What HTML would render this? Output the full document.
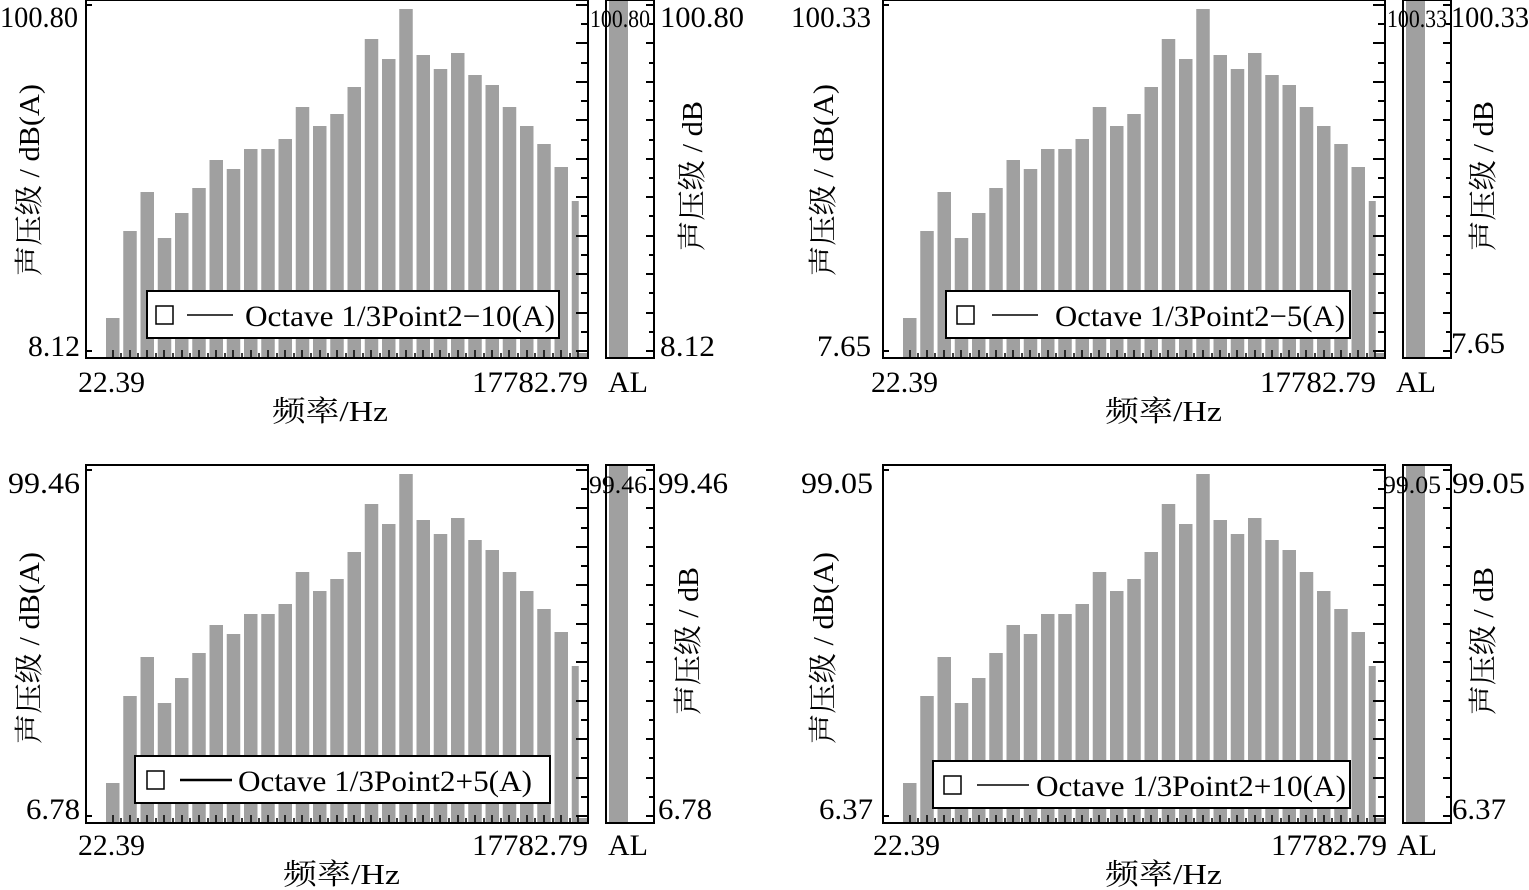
<!DOCTYPE html>
<html><head><meta charset="utf-8"><style>
body{margin:0;background:#fff}
svg{display:block}
text{font-family:"Liberation Serif","Noto Serif CJK SC",serif;fill:#000}
</style></head><body>
<svg width="1529" height="890" viewBox="0 0 1529 890" xmlns="http://www.w3.org/2000/svg">
<defs>
<g id="bars" fill="#a0a0a0">
<rect x="20" y="318" width="13.5" height="40"/>
<rect x="37.25" y="231" width="13.5" height="127"/>
<rect x="54.5" y="192" width="13.5" height="166"/>
<rect x="71.75" y="238" width="13.5" height="120"/>
<rect x="89" y="213" width="13.5" height="145"/>
<rect x="106.25" y="188" width="13.5" height="170"/>
<rect x="123.5" y="160" width="13.5" height="198"/>
<rect x="140.75" y="169" width="13.5" height="189"/>
<rect x="158" y="149" width="13.5" height="209"/>
<rect x="175.25" y="149" width="13.5" height="209"/>
<rect x="192.5" y="139" width="13.5" height="219"/>
<rect x="209.75" y="107" width="13.5" height="251"/>
<rect x="227" y="126" width="13.5" height="232"/>
<rect x="244.25" y="114" width="13.5" height="244"/>
<rect x="261.5" y="87" width="13.5" height="271"/>
<rect x="278.75" y="39" width="13.5" height="319"/>
<rect x="296" y="59" width="13.5" height="299"/>
<rect x="313.25" y="9" width="13.5" height="349"/>
<rect x="330.5" y="55" width="13.5" height="303"/>
<rect x="347.75" y="69" width="13.5" height="289"/>
<rect x="365" y="53" width="13.5" height="305"/>
<rect x="382.25" y="75" width="13.5" height="283"/>
<rect x="399.5" y="85" width="13.5" height="273"/>
<rect x="416.75" y="107" width="13.5" height="251"/>
<rect x="434" y="126" width="13.5" height="232"/>
<rect x="451.25" y="144" width="13.5" height="214"/>
<rect x="468.5" y="167" width="13.5" height="191"/>
<rect x="485.75" y="201" width="7" height="157"/>
</g>
<g id="ticks" stroke="#000" stroke-width="2">
<path d="M0 5h6M0 351h6"/>
<path d="M502 5h-12M502 24h-7M502 43h-12M502 63h-7M502 82h-12M502 101h-7M502 120h-12M502 140h-7M502 159h-12M502 178h-7M502 197h-12M502 216h-7M502 236h-12M502 255h-7M502 274h-12M502 293h-7M502 313h-12M502 332h-7M502 351h-12"/>
<path d="M568 5h-8M568 24h-5M568 43h-8M568 63h-5M568 82h-8M568 101h-5M568 120h-8M568 140h-5M568 159h-8M568 178h-5M568 197h-8M568 216h-5M568 236h-8M568 255h-5M568 274h-8M568 293h-5M568 313h-8M568 332h-5M568 351h-8"/>
<path stroke-width="1.5" d="M27 358v-8M35 358v-5M44 358v-8M52 358v-5M61 358v-8M70 358v-5M78 358v-8M87 358v-5M96 358v-8M104 358v-5M113 358v-8M122 358v-5M130 358v-8M139 358v-5M147 358v-8M156 358v-5M165 358v-8M173 358v-5M182 358v-8M191 358v-5M199 358v-8M208 358v-5M216 358v-8M225 358v-5M234 358v-8M242 358v-5M251 358v-8M260 358v-5M268 358v-8M277 358v-5M285 358v-8M294 358v-5M303 358v-8M311 358v-5M320 358v-8M329 358v-5M337 358v-8M346 358v-5M354 358v-8M363 358v-5M372 358v-8M380 358v-5M389 358v-8M398 358v-5M406 358v-8M415 358v-5M423 358v-8M432 358v-5M441 358v-8M449 358v-5M458 358v-8M467 358v-5M475 358v-8M484 358v-5M492 358v-8"/>
</g>
<g id="frame">
<use href="#bars"/>
<rect x="492.75" y="353" width="9.25" height="5" fill="#a0a0a0"/>
<rect x="0" y="0" width="502" height="358" fill="none" stroke="#000" stroke-width="2"/>
<rect x="523" y="0" width="19" height="358" fill="#a0a0a0"/>
<rect x="520" y="0" width="48" height="358" fill="none" stroke="#000" stroke-width="2"/>
<use href="#ticks"/>
</g>
</defs>

<!-- Panel 1 -->
<g transform="translate(86,0)">
<use href="#frame"/>
<text x="-8" y="27" font-size="30" text-anchor="end" textLength="78" lengthAdjust="spacingAndGlyphs">100.80</text>
<text x="-6" y="356" font-size="30" text-anchor="end" textLength="52" lengthAdjust="spacingAndGlyphs">8.12</text>
<text x="504" y="27" font-size="25" textLength="60" lengthAdjust="spacingAndGlyphs">100.80</text>
<text x="574" y="27" font-size="30" textLength="84" lengthAdjust="spacingAndGlyphs">100.80</text>
<text x="574" y="356" font-size="30" textLength="55" lengthAdjust="spacingAndGlyphs">8.12</text>
<text x="-8" y="392" font-size="30" textLength="67" lengthAdjust="spacingAndGlyphs">22.39</text>
<text x="386" y="392" font-size="30" textLength="116" lengthAdjust="spacingAndGlyphs">17782.79</text>
<text x="522" y="392" font-size="30" textLength="40" lengthAdjust="spacingAndGlyphs">AL</text>
<text x="186" y="421" font-size="29" textLength="116" lengthAdjust="spacingAndGlyphs">频率/Hz</text>
<text transform="translate(-47,180) rotate(-90)" font-size="29" text-anchor="middle" textLength="192" lengthAdjust="spacingAndGlyphs">声压级 / dB(A)</text>
<text transform="translate(616,176) rotate(-90)" font-size="29" text-anchor="middle" textLength="150" lengthAdjust="spacingAndGlyphs">声压级 / dB</text>
<g transform="translate(61,291)">
<rect x="0" y="0" width="412" height="47" fill="#fff" stroke="#000" stroke-width="2"/>
<rect x="9" y="15" width="17" height="18" fill="none" stroke="#000" stroke-width="1.5"/>
<line x1="40" y1="24" x2="86" y2="24" stroke="#000" stroke-width="1.5"/>
<text x="98" y="35" font-size="30" textLength="310" lengthAdjust="spacingAndGlyphs">Octave 1/3Point2−10(A)</text>
</g>
</g>

<!-- Panel 2 -->
<g transform="translate(883,0)">
<use href="#frame"/>
<text x="-12" y="27" font-size="30" text-anchor="end" textLength="80" lengthAdjust="spacingAndGlyphs">100.33</text>
<text x="-12" y="356" font-size="30" text-anchor="end" textLength="54" lengthAdjust="spacingAndGlyphs">7.65</text>
<text x="504" y="27" font-size="25" textLength="60" lengthAdjust="spacingAndGlyphs">100.33</text>
<text x="568" y="27" font-size="30" textLength="78" lengthAdjust="spacingAndGlyphs">100.33</text>
<text x="568" y="353" font-size="30" textLength="54" lengthAdjust="spacingAndGlyphs">7.65</text>
<text x="-12" y="392" font-size="30" textLength="67" lengthAdjust="spacingAndGlyphs">22.39</text>
<text x="377" y="392" font-size="30" textLength="116" lengthAdjust="spacingAndGlyphs">17782.79</text>
<text x="513" y="392" font-size="30" textLength="40" lengthAdjust="spacingAndGlyphs">AL</text>
<text x="222" y="421" font-size="29" textLength="117" lengthAdjust="spacingAndGlyphs">频率/Hz</text>
<text transform="translate(-50,180) rotate(-90)" font-size="29" text-anchor="middle" textLength="192" lengthAdjust="spacingAndGlyphs">声压级 / dB(A)</text>
<text transform="translate(610,176) rotate(-90)" font-size="29" text-anchor="middle" textLength="150" lengthAdjust="spacingAndGlyphs">声压级 / dB</text>
<g transform="translate(63,291)">
<rect x="0" y="0" width="404" height="47" fill="#fff" stroke="#000" stroke-width="2"/>
<rect x="11" y="15" width="17" height="18" fill="none" stroke="#000" stroke-width="1.5"/>
<line x1="46" y1="24" x2="92" y2="24" stroke="#000" stroke-width="1.5"/>
<text x="109" y="35" font-size="30" textLength="290" lengthAdjust="spacingAndGlyphs">Octave 1/3Point2−5(A)</text>
</g>
</g>

<!-- Panel 3 -->
<g transform="translate(86,465)">
<use href="#frame"/>
<text x="-6" y="28" font-size="30" text-anchor="end" textLength="72" lengthAdjust="spacingAndGlyphs">99.46</text>
<text x="-6" y="354" font-size="30" text-anchor="end" textLength="54" lengthAdjust="spacingAndGlyphs">6.78</text>
<text x="503" y="28" font-size="25" textLength="58" lengthAdjust="spacingAndGlyphs">99.46</text>
<text x="572" y="28" font-size="30" textLength="70" lengthAdjust="spacingAndGlyphs">99.46</text>
<text x="572" y="354" font-size="30" textLength="54" lengthAdjust="spacingAndGlyphs">6.78</text>
<text x="-8" y="390" font-size="30" textLength="67" lengthAdjust="spacingAndGlyphs">22.39</text>
<text x="386" y="390" font-size="30" textLength="116" lengthAdjust="spacingAndGlyphs">17782.79</text>
<text x="522" y="390" font-size="30" textLength="40" lengthAdjust="spacingAndGlyphs">AL</text>
<text x="197" y="419" font-size="29" textLength="117" lengthAdjust="spacingAndGlyphs">频率/Hz</text>
<text transform="translate(-47,183) rotate(-90)" font-size="29" text-anchor="middle" textLength="192" lengthAdjust="spacingAndGlyphs">声压级 / dB(A)</text>
<text transform="translate(612,176) rotate(-90)" font-size="29" text-anchor="middle" textLength="148" lengthAdjust="spacingAndGlyphs">声压级 / dB</text>
<g transform="translate(49,291)">
<rect x="0" y="0" width="415" height="47" fill="#fff" stroke="#000" stroke-width="2"/>
<rect x="12" y="15" width="17" height="18" fill="none" stroke="#000" stroke-width="1.5"/>
<line x1="45" y1="24" x2="97" y2="24" stroke="#000" stroke-width="2.5"/>
<text x="103" y="35" font-size="30" textLength="294" lengthAdjust="spacingAndGlyphs">Octave 1/3Point2+5(A)</text>
</g>
</g>

<!-- Panel 4 -->
<g transform="translate(883,465)">
<use href="#frame"/>
<text x="-10" y="28" font-size="30" text-anchor="end" textLength="72" lengthAdjust="spacingAndGlyphs">99.05</text>
<text x="-10" y="354" font-size="30" text-anchor="end" textLength="54" lengthAdjust="spacingAndGlyphs">6.37</text>
<text x="500" y="28" font-size="25" textLength="58" lengthAdjust="spacingAndGlyphs">99.05</text>
<text x="569" y="28" font-size="30" textLength="73" lengthAdjust="spacingAndGlyphs">99.05</text>
<text x="569" y="354" font-size="30" textLength="54" lengthAdjust="spacingAndGlyphs">6.37</text>
<text x="-10" y="390" font-size="30" textLength="67" lengthAdjust="spacingAndGlyphs">22.39</text>
<text x="388" y="390" font-size="30" textLength="116" lengthAdjust="spacingAndGlyphs">17782.79</text>
<text x="514" y="390" font-size="30" textLength="40" lengthAdjust="spacingAndGlyphs">AL</text>
<text x="222" y="419" font-size="29" textLength="117" lengthAdjust="spacingAndGlyphs">频率/Hz</text>
<text transform="translate(-50,183) rotate(-90)" font-size="29" text-anchor="middle" textLength="192" lengthAdjust="spacingAndGlyphs">声压级 / dB(A)</text>
<text transform="translate(610,176) rotate(-90)" font-size="29" text-anchor="middle" textLength="148" lengthAdjust="spacingAndGlyphs">声压级 / dB</text>
<g transform="translate(50,296)">
<rect x="0" y="0" width="417" height="47" fill="#fff" stroke="#000" stroke-width="2"/>
<rect x="11" y="15" width="17" height="18" fill="none" stroke="#000" stroke-width="1.5"/>
<line x1="44" y1="24" x2="96" y2="24" stroke="#000" stroke-width="1.5"/>
<text x="103" y="35" font-size="30" textLength="310" lengthAdjust="spacingAndGlyphs">Octave 1/3Point2+10(A)</text>
</g>
</g>
</svg>
</body></html>
